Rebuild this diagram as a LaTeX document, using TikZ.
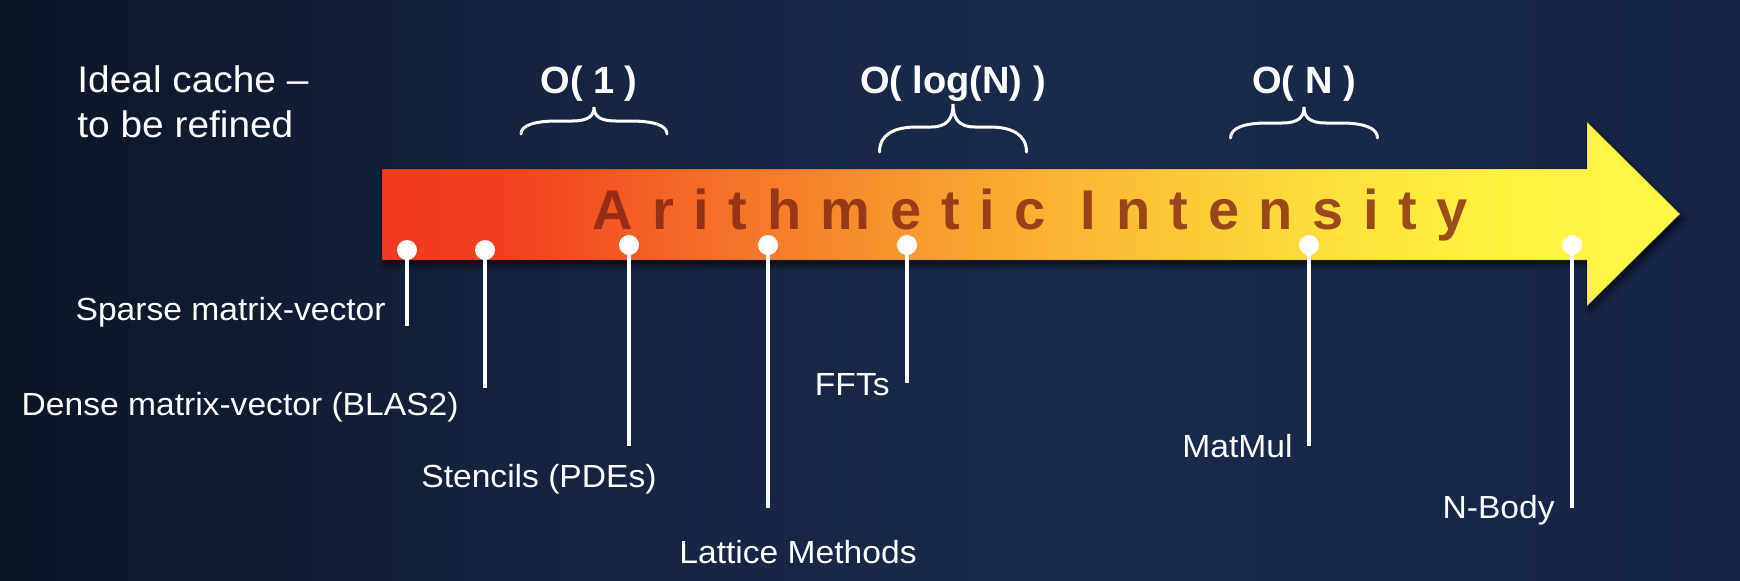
\documentclass[tikz,border=0pt]{standalone}
\usepackage{fontspec}
\setmainfont{Liberation Sans}
\newfontfamily\lblfont[FakeStretch=1.05]{Liberation Sans}
\newfontfamily\bandfont[LetterSpace=35]{Liberation Sans}
\usetikzlibrary{shadows.blur}

% background navy
\definecolor{bgA}{HTML}{0C1526}
\definecolor{bgB}{HTML}{15233F}
\definecolor{bgC}{HTML}{192A4A}
\definecolor{bgD}{HTML}{162547}
% arrow fill, red to yellow
\definecolor{arA}{HTML}{F23A1E}
\definecolor{arB}{HTML}{F33F1F}
\definecolor{arC}{HTML}{F5722A}
\definecolor{arD}{HTML}{F7982E}
\definecolor{arE}{HTML}{FAB533}
\definecolor{arF}{HTML}{FEE23C}
\definecolor{arG}{HTML}{FFF33F}
\definecolor{arH}{HTML}{FFF645}
\definecolor{bandtext}{HTML}{7E2210}

\pgfdeclarehorizontalshading{bgshade}{100bp}{color(0bp)=(bgA); color(25bp)=(bgA); color(40bp)=(bgB); color(55bp)=(bgC); color(75bp)=(bgD); color(100bp)=(bgD)}
\pgfdeclarehorizontalshading{arrowshade}{100bp}{color(0bp)=(arA); color(25bp)=(arA); color(29.6bp)=(arB); color(38.4bp)=(arC); color(45bp)=(arD); color(51.2bp)=(arE); color(62bp)=(arF); color(68.5bp)=(arG); color(75bp)=(arH); color(100bp)=(arH)}

\tikzset{
  lbl/.style={font=\lblfont\fontsize{16}{19}\selectfont, text=white, inner sep=0pt},
  note/.style={font=\lblfont\fontsize{18.5}{22}\selectfont, text=white, inner sep=0pt},
  order/.style={font=\bfseries\fontsize{19}{22}\selectfont, text=white, inner sep=0pt},
  dot/.style={circle, fill=white, draw=none, minimum size=10pt, inner sep=0pt},
  stem/.style={white, line width=1.6pt},
  bracestyle/.style={white, line width=1.5pt, line cap=round},
  pics/cbrace/.style n args={3}{code={
    \draw[bracestyle] (-#1,#3) .. controls (-#1,{0.3*#3}) and ({-0.8*#1},0) .. ({-0.5*#1},0)
      -- ({-0.3*#1},0) .. controls ({-0.08*#1},0) and (0,{-0.35*#2}) .. (0,-#2)
      .. controls (0,{-0.35*#2}) and ({0.08*#1},0) .. ({0.3*#1},0)
      -- ({0.5*#1},0) .. controls ({0.8*#1},0) and (#1,{0.3*#3}) .. (#1,#3);
  }}
}

\begin{document}
\begin{tikzpicture}[x=0.5pt,y=-0.5pt]
\useasboundingbox (0,0) rectangle (1740,580);
\fill[shading=bgshade] (0,0) rectangle (1740,580);

% the arrow
\path[shading=arrowshade, draw=black, draw opacity=0.2, line width=0.4pt,
      blur shadow={shadow xshift=1.5pt, shadow yshift=-2.5pt, shadow blur radius=3pt, shadow opacity=70}]
  (382,169) -- (1587,169) -- (1587,122) -- (1680,214) -- (1587,306) -- (1587,260) -- (382,260) -- cycle;

\node[anchor=base west, inner sep=0pt, text=bandtext, text opacity=0.78,
      font=\bandfont\bfseries\fontsize{28}{30}\selectfont] (band) at (592,229) {Arithmetic Intensity};

% upper notes
\node[note, anchor=base west] (idealA) at (77,92) {Ideal cache –};
\node[note, anchor=base west] (idealB) at (77,137) {to be refined};

\node[order, anchor=base] (o1) at (589,93) {O( 1 )};
\node[order, anchor=base] (olog) at (953,93) {O( log(N) )};
\node[order, anchor=base] (on) at (1304,93) {O( N )};

\pic at (594,121) {cbrace={73}{14}{13}};
\pic at (953,127) {cbrace={73.5}{23}{25}};
\pic at (1304,123) {cbrace={73.5}{16}{15}};

% markers on the arrow
\foreach \n/\x/\y/\yb in {sp/407/250/326, dn/485/250/388, st/629/245/446, la/768/245/508, ff/907/245/383, mm/1309/245/446, nb/1572/245/508} {
  \coordinate (e\n) at (\x,\yb);
  \draw[stem] (\x,\y) -- (e\n);
  \node[dot] (d\n) at (\x,\y) {};
}

% kernel labels
\node[lbl, anchor=base east] (lsp) at (386,320) {Sparse matrix-vector};
\node[lbl, anchor=base east] (ldn) at (459,415) {Dense matrix-vector (BLAS2)};
\node[lbl, anchor=base east] (lst) at (657,487) {Stencils (PDEs)};
\node[lbl, anchor=base west] (lla) at (679,563) {Lattice Methods};
\node[lbl, anchor=base east] (lff) at (890,395) {FFTs};
\node[lbl, anchor=base east] (lmm) at (1293,457) {MatMul};
\node[lbl, anchor=base east] (lnb) at (1555,518) {N-Body};
\end{tikzpicture}
\end{document}
